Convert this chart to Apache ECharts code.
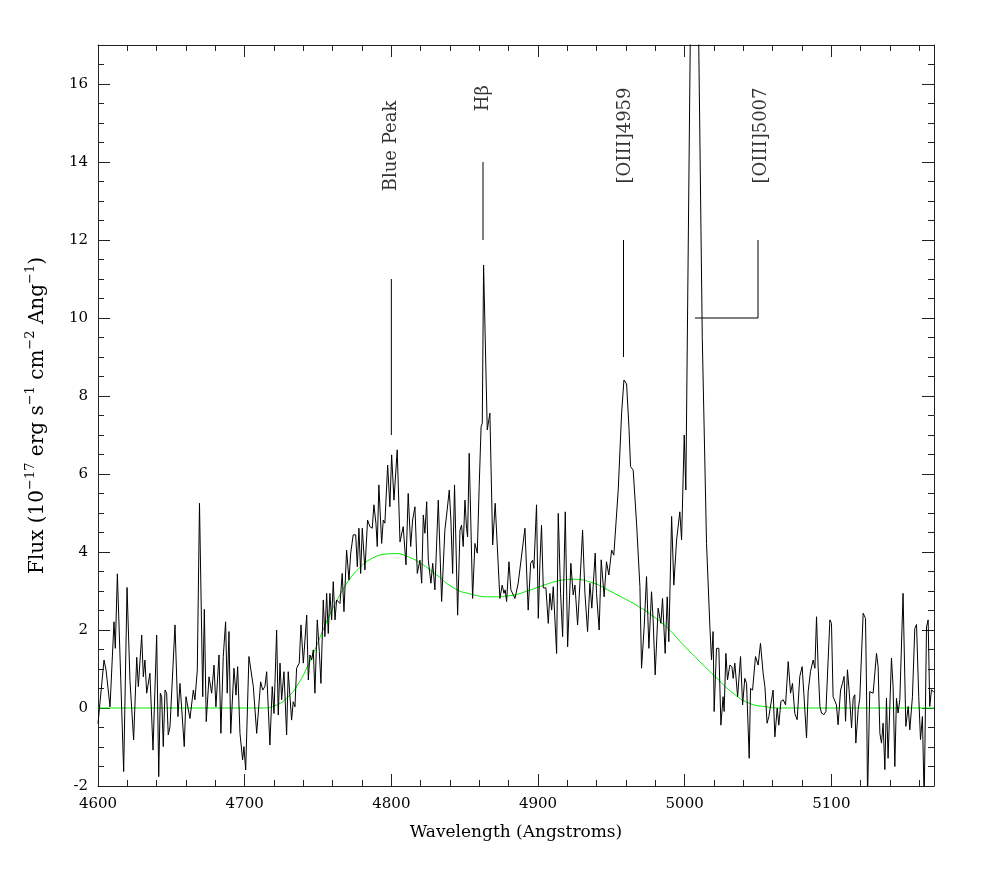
<!DOCTYPE html>
<html>
<head>
<meta charset="utf-8">
<script src="https://cdn.jsdelivr.net/npm/echarts@6/dist/echarts.min.js"></script>
<style>
  html, body { margin: 0; padding: 0; background: #fff; }
  #chart { width: 981px; height: 872px; }
</style>
</head>
<body>
<div id="chart"></div>
<script>
// spectrum (wavelength in Angstroms, flux in 1e-17 units)
const specWave = [
  4600.0, 4604.1, 4605.5, 4608.2, 4610.9, 4611.8, 4613.2, 4615.5, 4616.4, 4617.5,
  4619.8, 4621.8, 4623.0, 4624.3, 4626.4, 4627.5, 4629.8, 4630.9, 4632.0, 4633.2,
  4635.4, 4637.5, 4640.0, 4641.4, 4642.5, 4643.4, 4644.5, 4645.7, 4646.8, 4647.9,
  4649.1, 4652.5, 4654.5, 4655.9, 4658.8, 4660.0, 4662.7, 4665.0, 4666.1, 4667.7,
  4669.2, 4671.4, 4672.5, 4673.8, 4675.7, 4677.5, 4679.1, 4680.4, 4682.5, 4683.8,
  4685.4, 4687.0, 4688.1, 4689.3, 4690.5, 4692.7, 4694.1, 4695.2, 4696.8, 4698.6,
  4699.5, 4700.7, 4702.9, 4705.9, 4708.2, 4710.9, 4712.3, 4713.8, 4715.0, 4717.2,
  4718.8, 4720.0, 4721.8, 4722.9, 4724.1, 4725.2, 4726.8, 4728.6, 4729.7, 4732.0,
  4733.1, 4734.3, 4735.4, 4737.2, 4738.4, 4740.0, 4742.3, 4743.4, 4744.5, 4745.7,
  4746.8, 4747.9, 4749.5, 4750.9, 4752.0, 4753.6, 4754.7, 4755.9, 4757.0, 4758.1,
  4759.3, 4760.4, 4761.6, 4762.7, 4765.0, 4766.5, 4767.7, 4769.5, 4771.1, 4772.3,
  4774.0, 4775.7, 4776.8, 4777.9, 4779.1, 4780.2, 4782.0, 4783.8, 4785.4, 4787.0,
  4788.1, 4789.5, 4790.4, 4791.5, 4793.4, 4794.5, 4795.6, 4797.5, 4799.0, 4800.2,
  4801.8, 4804.0, 4805.9, 4808.1, 4810.0, 4811.5, 4813.2, 4814.5, 4816.1, 4817.7,
  4819.5, 4820.7, 4821.8, 4822.9, 4824.1, 4825.2, 4827.0, 4828.2, 4829.7, 4832.0,
  4834.3, 4836.5, 4837.7, 4839.5, 4840.6, 4841.8, 4843.1, 4845.2, 4846.8, 4847.9,
  4849.0, 4850.2, 4851.3, 4852.0, 4853.1, 4855.4, 4857.0, 4858.6, 4859.9, 4861.2,
  4862.0, 4862.9, 4865.4, 4867.2, 4869.1, 4870.8, 4874.0, 4875.6, 4876.8, 4877.6,
  4878.6, 4880.2, 4881.5, 4882.7, 4884.3, 4886.5, 4887.7, 4891.1, 4893.3, 4895.0,
  4896.3, 4897.2, 4899.0, 4900.2, 4901.3, 4902.4, 4903.6, 4905.4, 4907.0, 4908.1,
  4909.3, 4910.4, 4911.5, 4912.7, 4913.8, 4915.4, 4916.8, 4918.6, 4920.2, 4922.4,
  4924.0, 4925.2, 4927.0, 4928.6, 4930.4, 4932.0, 4933.8, 4935.4, 4936.7, 4939.0,
  4939.9, 4941.7, 4943.1, 4945.1, 4946.7, 4948.3, 4950.2, 4951.7, 4954.7, 4957.0,
  4958.6, 4960.4, 4962.0, 4963.1, 4964.9, 4967.2, 4969.5, 4970.6, 4972.4, 4974.0,
  4975.6, 4977.4, 4978.5, 4979.9, 4981.9, 4983.8, 4984.9, 4986.7, 4988.1, 4989.2,
  4991.1, 4992.6, 4994.5, 4996.7, 4997.9, 4999.7, 5000.8, 5006.4, 5012.0, 5014.9,
  5017.2, 5018.3, 5019.4, 5020.1, 5021.7, 5023.3, 5024.7, 5026.2, 5026.9, 5028.1,
  5029.2, 5030.8, 5032.2, 5033.1, 5034.2, 5036.1, 5038.1, 5039.5, 5041.0, 5042.2,
  5044.0, 5044.9, 5046.3, 5048.3, 5050.1, 5051.7, 5053.5, 5054.7, 5056.2, 5057.4,
  5058.6, 5060.3, 5061.5, 5063.1, 5064.2, 5065.6, 5067.2, 5068.8, 5070.6, 5072.2,
  5073.5, 5075.1, 5076.7, 5078.5, 5080.1, 5081.3, 5083.1, 5084.2, 5085.8, 5087.6,
  5088.8, 5089.9, 5091.0, 5092.2, 5093.3, 5094.9, 5096.3, 5097.2, 5099.0, 5100.1,
  5101.2, 5102.4, 5103.5, 5104.6, 5106.3, 5107.6, 5108.7, 5109.7, 5111.0, 5112.1,
  5113.8, 5114.9, 5116.0, 5116.7, 5118.3, 5119.4, 5121.7, 5123.3, 5124.0, 5124.7,
  5126.2, 5127.4, 5128.5, 5130.8, 5131.9, 5133.1, 5134.2, 5135.3, 5136.5, 5137.6,
  5138.7, 5141.0, 5142.1, 5143.3, 5144.4, 5145.5, 5146.7, 5148.9, 5150.8, 5152.4,
  5153.5, 5155.3, 5156.9, 5158.1, 5159.6, 5160.8, 5162.1, 5163.3, 5164.9, 5166.0,
  5167.1, 5168.3, 5170.0
]
const specFlux = [
  -0.40, 1.23, 0.97, 0.03, 2.21, 1.53, 3.44, 0.76, 0.73, -1.63,
  3.09, 0.70, 0.70, -0.82, 1.30, 0.55, 1.87, 0.80, 1.23, 0.38,
  0.89, -1.08, 1.87, -1.76, 0.38, 0.29, -0.99, 0.46, 0.38, -0.69,
  -0.48, 2.13, -0.22, 0.63, -0.99, 0.29, -0.27, 0.46, 0.21, 0.97,
  5.25, 0.29, 2.53, -0.35, 0.80, 0.38, 1.10, 0.03, 1.36, -0.65,
  1.32, 2.21, 0.38, 1.96, -0.65, 1.02, 0.33, 1.06, -0.65, -1.33,
  -0.99, -1.59, 1.32, 0.55, -0.65, 0.67, 0.46, 0.55, 0.93, -0.95,
  0.55, -0.14, 2.00, -0.18, 1.15, 0.21, 0.93, -0.69, 0.93, -0.31,
  0.16, 0.03, 1.02, 1.15, 2.13, 1.15, 2.38, 0.72, 1.36, 1.23,
  1.49, 0.38, 2.26, 1.45, 0.63, 2.77, 1.83, 2.94, 1.91, 2.94,
  2.26, 3.24, 2.26, 2.77, 2.68, 3.45, 2.47, 4.05, 3.28, 3.97,
  4.44, 4.44, 3.62, 4.61, 3.45, 4.61, 3.54, 4.82, 4.65, 4.61,
  5.21, 4.74, 4.14, 5.72, 4.22, 4.82, 4.74, 6.23, 5.16, 6.49,
  5.33, 6.62, 4.26, 4.65, 3.67, 5.50, 4.14, 4.82, 5.16, 3.45,
  3.79, 3.20, 4.95, 4.48, 5.29, 3.79, 3.20, 3.71, 3.03, 5.33,
  2.73, 4.56, 4.95, 5.59, 4.82, 3.45, 5.72, 2.38, 4.56, 4.69,
  4.14, 5.33, 4.60, 4.39, 6.53, 2.81, 4.22, 3.97, 5.68, 7.21,
  7.30, 11.36, 7.13, 7.56, 4.18, 5.25, 2.81, 3.15, 2.94, 3.03,
  2.73, 3.75, 3.03, 3.08, 2.81, 3.20, 3.15, 4.61, 2.51, 3.71,
  3.79, 3.58, 5.21, 2.30, 3.71, 4.69, 3.08, 3.08, 2.17, 2.94,
  2.51, 3.11, 3.15, 1.40, 4.99, 2.94, 1.83, 5.03, 1.57, 3.71,
  2.90, 3.15, 2.13, 3.20, 4.56, 2.94, 1.96, 3.20, 2.56, 3.97,
  2.94, 2.00, 3.80, 2.85, 3.75, 3.41, 4.05, 3.92, 5.59, 7.56,
  8.41, 8.31, 7.21, 6.19, 6.10, 4.74, 3.11, 1.02, 2.08, 3.37,
  1.53, 2.98, 2.26, 0.85, 2.56, 2.17, 2.81, 1.40, 2.85, 1.70,
  4.91, 3.15, 4.31, 5.03, 4.31, 7.00, 5.59, 27.0, 9.50, 4.22,
  2.08, 1.23, 1.96, -0.09, 1.53, 1.53, -0.44, 0.29, -0.09, 1.40,
  0.72, 1.10, 1.06, 0.76, 1.15, 0.29, 1.32, 0.08, 0.76, 0.63,
  -1.29, 0.50, 0.46, 1.32, 1.10, 1.66, 0.89, 0.55, -0.39, -0.22,
  -0.26, 0.46, -0.74, 0.00, -0.44, 0.17, 0.21, 0.08, 1.19, 0.38,
  0.63, -0.14, -0.30, 0.81, 1.06, 0.34, -0.77, 0.42, 0.94, 1.23,
  1.02, 2.34, 1.06, 0.04, -0.13, -0.17, -0.09, -0.13, 2.26, 2.17,
  0.29, 0.25, 0.08, -0.43, 0.46, 0.63, 0.81, -0.34, 0.98, 0.46,
  -0.51, 0.25, 0.34, -0.90, -0.04, 0.25, 2.43, 2.30, 0.46, -2.30,
  0.42, 0.46, 0.38, 1.40, 1.06, -0.65, -0.90, -0.39, -1.58, 0.25,
  -1.29, 1.28, 0.55, -1.50, 0.25, -0.13, 0.21, 2.94, -0.47, 0.04,
  -0.56, 0.29, 2.04, 2.14, 0.29, -0.81, -0.22, -2.40, 2.08, 2.26,
  0.04, 0.47, 0.40
]

// smooth continuum fit (green)
const fitWave = [4600, 4700, 4712, 4720, 4730, 4737, 4742, 4748, 4754, 4760,
  4766, 4772, 4778, 4785, 4797, 4803, 4810, 4820, 4831, 4842,
  4854, 4868, 4881, 4892, 4904, 4915, 4924, 4938, 4949, 4956,
  4965, 4976, 4988, 4999, 5010, 5022, 5033, 5044, 5056, 5065, 5170]
const fitFlux = [0, 0, 0, 0.05, 0.3, 0.65, 1.0, 1.5, 2.05, 2.55,
  2.97, 3.33, 3.58, 3.8, 3.95, 3.96, 3.9, 3.71, 3.41, 3.09,
  2.92, 2.85, 2.88, 2.99, 3.15, 3.27, 3.3, 3.2, 3.0, 2.86,
  2.68, 2.42, 2.06, 1.62, 1.2, 0.76, 0.38, 0.12, 0.03, 0, 0]

// line identifications
const markNames = ['Blue Peak', 'H\u03b2', '[OIII]4959', '[OIII]5007']
const markPaths = [
  [[4800, 7], [4800, 11]],
  [[4862.5, 12], [4862.5, 14]],
  [[4958.3, 9], [4958.3, 12]],
  [[5007, 10], [5050, 10], [5050, 12]]
]
const markTextAt = [[4800.3, 13.25], [4862.6, 15.3], [4959.3, 13.45], [5052.6, 13.45]]

const FONT = 'DejaVu Serif'

const xAx = (pos, step, len, labels) => ({
  type: 'value',
  min: 4600,
  max: 5170,
  interval: step,
  position: pos,
  axisLine: { show: labels, onZero: false, lineStyle: { color: '#222', width: 1 } },
  axisTick: { inside: true, length: len, lineStyle: { color: '#222', width: 1 } },
  axisLabel: {
    show: labels && pos === 'bottom',
    margin: 11,
    color: '#000',
    fontFamily: FONT,
    fontSize: 15,
    formatter: (v) => (v % 100 === 0 ? String(v) : '')
  },
  splitLine: { show: false }
})
const yAx = (pos, step, len, labels) => ({
  type: 'value',
  min: -2,
  max: 17,
  interval: step,
  position: pos,
  axisLine: { show: labels, onZero: false, lineStyle: { color: '#222', width: 1 } },
  axisTick: { inside: true, length: len, lineStyle: { color: '#222', width: 1 } },
  axisLabel: {
    show: labels && pos === 'left',
    margin: 10,
    color: '#000',
    fontFamily: FONT,
    fontSize: 15,
    formatter: (v) => (v % 2 === 0 ? String(v) : '')
  },
  splitLine: { show: false }
})

const chart = echarts.init(document.getElementById('chart'))

const xAxes = [xAx('bottom', 100, 12, true), xAx('bottom', 20, 6, false), xAx('top', 100, 12, true), xAx('top', 20, 6, false)]
xAxes[0].name = 'Wavelength (Angstroms)'
xAxes[0].nameLocation = 'middle'
xAxes[0].nameGap = 38
xAxes[0].nameTextStyle = { color: '#000', fontFamily: FONT, fontSize: 17 }

const yAxes = [yAx('left', 2, 12, true), yAx('left', 0.5, 6, false), yAx('right', 2, 12, true), yAx('right', 0.5, 6, false)]
yAxes[0].name = 'Flux (10{sup|\u221217} erg s{sup|\u22121} cm{sup|\u22122} Ang{sup|\u22121})'
yAxes[0].nameLocation = 'middle'
yAxes[0].nameGap = 46
yAxes[0].nameTextStyle = {
  color: '#000',
  fontFamily: FONT,
  fontSize: 20,
  lineHeight: 28,
  padding: [0, 0, 0, 0],
  rich: {
    sup: { fontFamily: FONT, fontSize: 13, lineHeight: 12, verticalAlign: 'top', color: '#000' }
  }
}

const series = [
  {
    name: 'fit',
    type: 'line',
    data: fitWave.map((w, i) => [w, fitFlux[i]]),
    smooth: 0.5,
    showSymbol: false,
    symbol: 'none',
    lineStyle: { color: '#00ee00', width: 1 },
    z: 3
  },
  {
    name: 'spectrum',
    type: 'line',
    data: specWave.map((w, i) => [w, specFlux[i]]),
    showSymbol: false,
    symbol: 'none',
    clip: true,
    lineStyle: { color: '#000', width: 1 },
    z: 4
  }
]
markPaths.forEach((p) => {
  series.push({
    type: 'line',
    data: p,
    showSymbol: false,
    symbol: 'none',
    lineStyle: { color: '#000', width: 1 },
    z: 5
  })
})
series.push({
  type: 'scatter',
  data: markTextAt.map((p, i) => [p[0], p[1], markNames[i]]),
  symbolSize: 0,
  label: {
    show: true,
    position: [0, 0],
    rotate: 90,
    align: 'left',
    verticalAlign: 'middle',
    color: '#000',
    fontFamily: FONT,
    fontSize: 18,
    formatter: (p) => p.data[2]
  },
  z: 6
})

chart.setOption({
  animation: false,
  backgroundColor: '#fff',
  grid: { left: 98, right: 47, top: 45, bottom: 86, containLabel: false, outerBoundsMode: 'none' },
  xAxis: xAxes,
  yAxis: yAxes,
  series: series
})
</script>
</body>
</html>
